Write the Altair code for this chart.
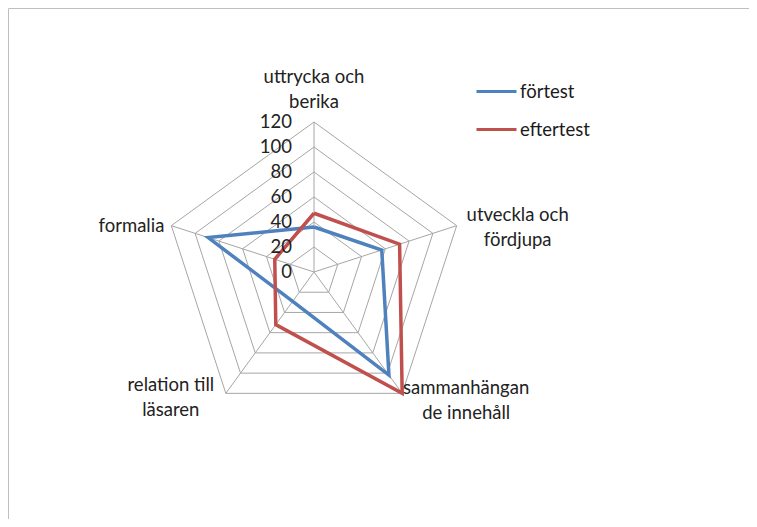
import altair as alt
import pandas as pd

categories = ["uttrycka och berika", "utveckla och fördjupa", "sammanhängande innehåll",
              "relation till läsaren", "formalia"]
label_text = ["uttrycka och\nberika", "utveckla och\nfördjupa", "sammanhängan\nde innehåll",
              "relation till\nläsaren", "formalia"]
series_names = ["förtest", "eftertest"]
fortest = [36, 57, 102, 29, 89]
eftertest = [47, 72, 120, 52, 33]
levels = [0, 20, 40, 60, 80, 100, 120]
colors = ["#4F81BD", "#C0504D"]
FONT = "Lato"
FS = 18.5

n = len(categories)
rmax = levels[-1]

# series rows (closed polygons)
srows = []
for name, vals in zip(series_names, [fortest, eftertest]):
    for k in range(n + 1):
        srows.append({"serie": name, "k": k, "idx": k % n, "value": vals[k % n]})
sdf = pd.DataFrame(srows)

# grid rows
grows = []
for lv in levels[1:]:
    for k in range(n + 1):
        grows.append({"level": lv, "k": k, "idx": k % n, "value": lv})
gdf = pd.DataFrame(grows)

spdf = pd.DataFrame({"idx": list(range(n)), "value": [rmax] * n})
tdf = pd.DataFrame({"idx": [0] * len(levels), "value": levels, "lab": [str(v) for v in levels]})
ldf = pd.DataFrame({"idx": list(range(n)), "value": [rmax] * n, "cat": categories, "lab": label_text})

W, H = 741, 511
cx, cy = 306, 264
ppu = 150 / 120
xs = alt.Scale(domain=[-cx / ppu, (W - cx) / ppu], nice=False, zero=False)
ys = alt.Scale(domain=[-(H - cy) / ppu, cy / ppu], nice=False, zero=False)


def polar(ch):
    return ch.transform_calculate(
        ang=f"datum.idx * 2 * PI / {n}"
    ).transform_calculate(
        px="datum.value * sin(datum.ang)",
        py="datum.value * cos(datum.ang)",
        zero="0",
    )


X = alt.X("px:Q", scale=xs, axis=None)
Y = alt.Y("py:Q", scale=ys, axis=None)

grid = polar(alt.Chart(gdf)).mark_line(color="#a6a6a6", strokeWidth=1).encode(
    x=X, y=Y, detail="level:N", order=alt.Order("k:Q"))

spokes = polar(alt.Chart(spdf)).mark_rule(color="#a6a6a6", strokeWidth=1).encode(
    x=alt.X("zero:Q", scale=xs, axis=None), y=alt.Y("zero:Q", scale=ys, axis=None),
    x2="px:Q", y2="py:Q")

series = polar(alt.Chart(sdf)).mark_line(strokeWidth=3.5, strokeJoin="miter").encode(
    x=X, y=Y, order=alt.Order("k:Q"),
    color=alt.Color("serie:N", sort=series_names,
                    scale=alt.Scale(domain=series_names, range=colors),
                    legend=alt.Legend(title=None, orient="none", legendX=467, legendY=62,
                                      symbolType="stroke", symbolSize=1600, symbolStrokeWidth=3,
                                      labelFont=FONT, labelFontSize=FS, labelColor="#1a1a1a",
                                      labelOffset=2, rowPadding=7)))

ticks = polar(alt.Chart(tdf)).mark_text(align="right", baseline="middle", dx=-22,
                                         font=FONT, fontSize=FS, color="#222").encode(
    x=X, y=Y, text="lab:N")

base_lab = polar(alt.Chart(ldf))


def lab_layer(i, **kw):
    return base_lab.transform_filter(f"datum.idx == {i}").mark_text(
        lineBreak="\n", lineHeight=25, font=FONT, fontSize=FS, color="#222",
        baseline="middle", **kw
    ).encode(x=X, y=Y, text="lab:N")


labels = [
    lab_layer(0, align="center", dy=-45),
    lab_layer(1, align="center", dx=61, dy=-11),
    lab_layer(2, align="center", dx=64, dy=-5),
    lab_layer(3, align="center", dx=-55, dy=-8),
    lab_layer(4, align="right", dx=-7, dy=0),
]

chart = alt.layer(grid, spokes, series, ticks, *labels).properties(
    width=W, height=H, padding=0,
    autosize=alt.AutoSizeParams(type="fit", contains="padding"),
).configure_view(stroke="#bfbfbf", strokeWidth=1)

chart.save("out.html", embed_options={"renderer": "svg", "actions": False})
